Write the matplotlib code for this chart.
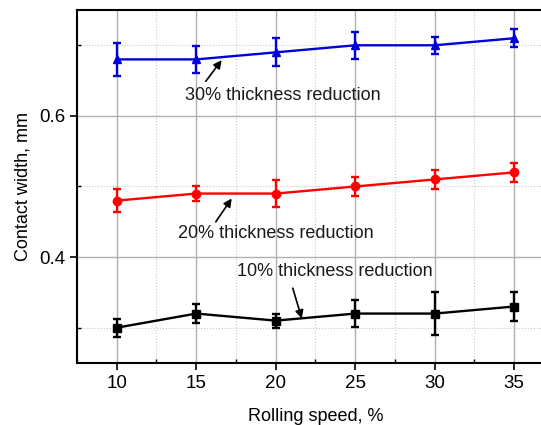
import matplotlib
matplotlib.use("Agg")
import matplotlib.pyplot as plt
from matplotlib.ticker import MultipleLocator

plt.rcParams['font.family'] = ['Liberation Sans', 'DejaVu Sans']

speed = [10, 15, 20, 25, 30, 35]
w30 = [0.68, 0.68, 0.69, 0.70, 0.70, 0.71]
e30 = [0.023, 0.019, 0.020, 0.019, 0.012, 0.013]
w20 = [0.48, 0.49, 0.49, 0.50, 0.51, 0.52]
e20 = [0.016, 0.010, 0.019, 0.013, 0.014, 0.013]
w10 = [0.30, 0.32, 0.31, 0.32, 0.32, 0.33]
e10 = [0.013, 0.013, 0.010, 0.019, 0.031, 0.020]

labels = ["30% thickness reduction", "20% thickness reduction", "10% thickness reduction"]

fig = plt.figure(figsize=(5.41, 4.25), dpi=100)
ax = fig.add_axes([0.1423, 0.1459, 0.8817, 0.8306])

common = dict(lw=1.7, elinewidth=1.7, capsize=3, capthick=1.7, markersize=6)
ax.errorbar(speed, w30, yerr=e30, color='#0000dd', marker='^', **common, zorder=3)
ax.errorbar(speed, w20, yerr=e20, color='#ff0000', marker='o', **common, zorder=3)
ax.errorbar(speed, w10, yerr=e10, color='black', marker='s', **common, zorder=3)

ax.set_xlim(7.5, 37.5)
ax.set_ylim(0.25, 0.75)
ax.xaxis.set_major_locator(MultipleLocator(5))
ax.xaxis.set_minor_locator(MultipleLocator(2.5))
ax.yaxis.set_major_locator(MultipleLocator(0.2))
ax.yaxis.set_minor_locator(MultipleLocator(0.1))
ax.set_xticks([10, 15, 20, 25, 30, 35])
ax.set_yticks([0.4, 0.6])
ax.set_yticklabels(['0.4', '0.6'])

ax.grid(which='major', color='#b0b0b0', lw=1.0, ls='-', zorder=0)
ax.grid(which='minor', color='#c8c8c8', lw=0.8, ls=':', zorder=0)
ax.set_axisbelow(True)

ax.tick_params(which='major', direction='out', length=5, width=1.2, labelsize=13.5, colors='black')
ax.tick_params(which='minor', direction='in', length=3, width=1.0)
for s in ax.spines.values():
    s.set_linewidth(1.5)

ax.set_xlabel("Rolling speed, %", fontsize=13, labelpad=12)
ax.set_ylabel("Contact width, mm", fontsize=13, labelpad=5)

txt = dict(fontsize=13, color='#1a1a1a', va='center', ha='left')
ax.text(14.28, 0.629, labels[0], **txt)
ax.text(13.84, 0.434, labels[1], **txt)
ax.text(17.55, 0.380, labels[2], **txt)

arr = dict(arrowstyle='-|>', color='black', lw=1.2, mutation_scale=12, shrinkA=0, shrinkB=0)
ax.annotate('', xy=(16.6, 0.679), xytext=(15.6, 0.649), arrowprops=arr)
ax.annotate('', xy=(17.23, 0.483), xytext=(16.23, 0.450), arrowprops=arr)
ax.annotate('', xy=(21.64, 0.313), xytext=(21.07, 0.356), arrowprops=arr)

fig.savefig("out.png", dpi=100)
